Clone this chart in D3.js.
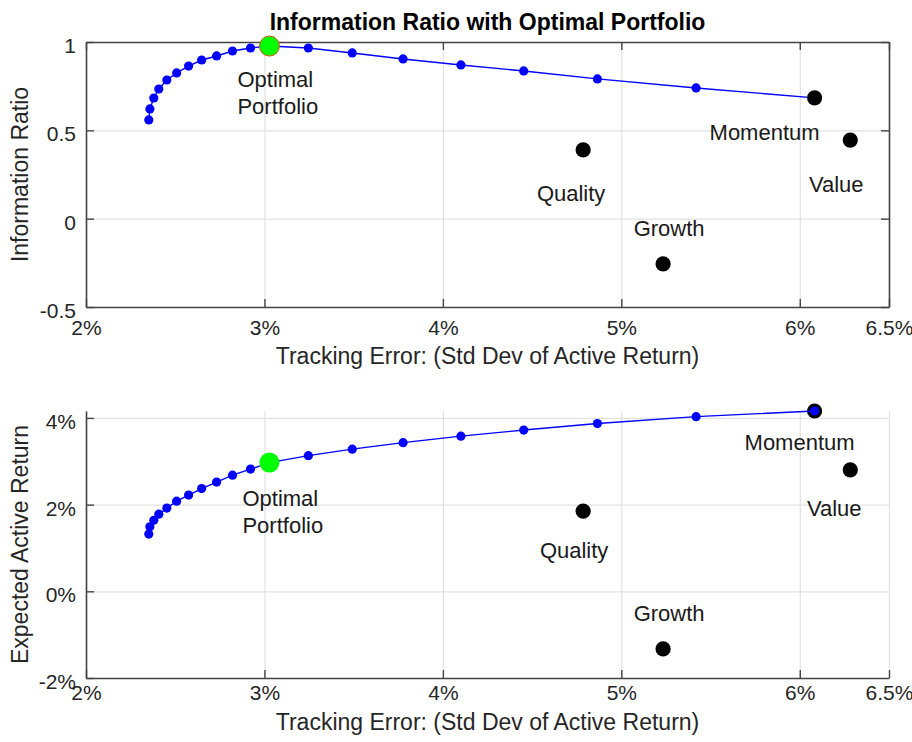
<!DOCTYPE html>
<html>
<head>
<meta charset="utf-8">
<script src="https://cdn.jsdelivr.net/npm/d3@7"></script>
<style>
  body { margin: 0; background: #fff; }
  svg text { font-family: "Liberation Sans", Arial, sans-serif; fill: #262626; }
</style>
</head>
<body>
<svg id="root" width="912" height="742"></svg>
<script>
// frontier of portfolios (tracking error %, information ratio, expected active return %)
const trackingError = [2.352, 2.358, 2.380, 2.408, 2.453, 2.508, 2.575, 2.648, 2.732, 2.821,
  2.922, 3.028, 3.246, 3.492, 3.777, 4.101, 4.453, 4.866, 5.419, 6.083];
const infoRatio = [0.559, 0.621, 0.683, 0.734, 0.785, 0.825, 0.864, 0.898, 0.921, 0.949,
  0.966, 0.977, 0.966, 0.938, 0.904, 0.870, 0.836, 0.791, 0.740, 0.684];
const activeReturn = [1.32, 1.49, 1.64, 1.78, 1.92, 2.08, 2.22, 2.37, 2.52, 2.68,
  2.82, 2.97, 3.13, 3.28, 3.43, 3.58, 3.72, 3.87, 4.03, 4.16];
const optimalIndex = 11;

// single factor portfolios
const factorNames = ["Momentum", "Value", "Quality", "Growth"];
const factorTE = [6.083, 6.283, 4.786, 5.234];
const factorIR = [0.684, 0.445, 0.389, -0.256];
const factorER = [4.16, 2.80, 1.85, -1.33];

const xTicks = [2, 3, 4, 5, 6, 6.5];
const irTicks = [-0.5, 0, 0.5, 1];
const erTicks = [-2, 0, 2, 4];

const svg = d3.select("#root");
const left = 86, right = 889;

const x = d3.scaleLinear().domain([2, 6.5]).range([left, right]);

const panels = [
  {
    top: 42, bottom: 307, box: true,
    yDomain: [-0.5, 1], yTicks: irTicks, yFmt: d => String(d),
    yLabel: "Information Ratio", yValues: infoRatio, factorY: factorIR,
    tickPad: 13, xTitleY: 364, factorsOnTop: true,
    optimalStroke: "#d95319",
    offsets: { Momentum: [-50, 34], Value: [-14, 44], Quality: [-12, 43], Growth: [6, -36] },
    optOffset: [-32, 33]
  },
  {
    top: 411, bottom: 678, box: false,
    yDomain: [-2, d3.max(activeReturn)], yTicks: erTicks, yFmt: d => d + "%",
    yLabel: "Expected Active Return", yValues: activeReturn, factorY: factorER,
    tickPad: 7, xTitleY: 730, factorsOnTop: false,
    optimalStroke: "none",
    offsets: { Momentum: [-15, 31], Value: [-16, 38], Quality: [-9, 39], Growth: [6, -36] },
    optOffset: [-27, 36]
  }
];

panels.forEach(drawPanel);

svg.append("text")
  .attr("x", (left + right) / 2)
  .attr("y", 30)
  .attr("text-anchor", "middle")
  .style("font-size", "23px")
  .style("font-weight", "bold")
  .style("fill", "#000")
  .text("Information Ratio with Optimal Portfolio");

function drawPanel(p) {
  const y = d3.scaleLinear().domain(p.yDomain).range([p.bottom, p.top]);
  const h = p.bottom - p.top;
  const g = svg.append("g");

  // grid
  g.append("g")
    .attr("transform", `translate(0,${p.bottom})`)
    .call(d3.axisBottom(x).tickValues(xTicks).tickSize(-h).tickFormat(""))
    .call(a => a.select(".domain").remove())
    .call(a => a.selectAll("line").attr("stroke", "#e2e2e2").attr("stroke-width", 1.2));
  g.append("g")
    .attr("transform", `translate(${left},0)`)
    .call(d3.axisLeft(y).tickValues(p.yTicks).tickSize(-(right - left)).tickFormat(""))
    .call(a => a.select(".domain").remove())
    .call(a => a.selectAll("line").attr("stroke", "#e2e2e2").attr("stroke-width", 1.2));

  // axes
  const styleAxis = a => {
    a.select(".domain").attr("stroke", "#444").attr("stroke-width", 1.6);
    a.selectAll(".tick line").attr("stroke", "#444").attr("stroke-width", 1.4);
    a.selectAll("text").style("font-size", "21px").style("fill", "#262626")
      .attr("font-family", null);
  };

  g.append("g")
    .attr("transform", `translate(0,${p.bottom})`)
    .call(d3.axisBottom(x).tickValues(xTicks).tickSize(-8).tickSizeOuter(0)
      .tickPadding(p.tickPad).tickFormat(d => d + "%"))
    .call(styleAxis);
  g.append("g")
    .attr("transform", `translate(${left},0)`)
    .call(d3.axisLeft(y).tickValues(p.yTicks).tickSize(-8).tickSizeOuter(0)
      .tickPadding(10).tickFormat(p.yFmt))
    .call(styleAxis)
    .call(a => a.selectAll("text").attr("dy", "0.5em"));

  if (p.box) {
    g.append("g")
      .attr("transform", `translate(0,${p.top})`)
      .call(d3.axisTop(x).tickValues(xTicks).tickSize(-8).tickSizeOuter(0).tickFormat(""))
      .call(styleAxis);
    g.append("g")
      .attr("transform", `translate(${right},0)`)
      .call(d3.axisRight(y).tickValues(p.yTicks).tickSize(-8).tickSizeOuter(0).tickFormat(""))
      .call(styleAxis);
  }

  // axis titles
  g.append("text")
    .attr("x", (left + right) / 2)
    .attr("y", p.xTitleY)
    .attr("text-anchor", "middle")
    .style("font-size", "23px")
    .text("Tracking Error: (Std Dev of Active Return)");
  g.append("text")
    .attr("transform", `translate(28,${(p.top + p.bottom) / 2}) rotate(-90)`)
    .attr("text-anchor", "middle")
    .style("font-size", "23px")
    .text(p.yLabel);

  const frontier = trackingError.map((t, i) => ({ x: t, y: p.yValues[i] }));
  const factors = factorNames.map((n, i) => ({ name: n, x: factorTE[i], y: p.factorY[i] }));

  const drawFrontier = () => {
    g.append("path")
      .datum(frontier)
      .attr("fill", "none")
      .attr("stroke", "#0000ff")
      .attr("stroke-width", 1.4)
      .attr("d", d3.line().x(d => x(d.x)).y(d => y(d.y)));
    g.selectAll(null)
      .data(frontier)
      .enter().append("circle")
      .attr("cx", d => x(d.x))
      .attr("cy", d => y(d.y))
      .attr("r", 4.6)
      .attr("fill", "#0000ff");
  };
  const drawFactors = () => {
    g.selectAll(null)
      .data(factors)
      .enter().append("circle")
      .attr("cx", d => x(d.x))
      .attr("cy", d => y(d.y))
      .attr("r", 7.6)
      .attr("fill", "#000");
  };

  if (p.factorsOnTop) { drawFrontier(); drawFactors(); }
  else { drawFactors(); drawFrontier(); }

  // optimal portfolio
  const opt = frontier[optimalIndex];
  g.append("circle")
    .attr("cx", x(opt.x))
    .attr("cy", y(opt.y))
    .attr("r", 10)
    .attr("fill", "#00ff00")
    .attr("stroke", p.optimalStroke)
    .attr("stroke-width", 1);

  // labels
  g.selectAll(null)
    .data(factors)
    .enter().append("text")
    .attr("x", d => x(d.x) + p.offsets[d.name][0])
    .attr("y", d => y(d.y) + p.offsets[d.name][1])
    .attr("dy", "0.35em")
    .attr("text-anchor", "middle")
    .style("font-size", "22px")
    .style("fill", "#1a1a1a")
    .text(d => d.name);

  const optText = g.append("text")
    .attr("x", x(opt.x) + p.optOffset[0])
    .attr("y", y(opt.y) + p.optOffset[1])
    .attr("dy", "0.35em")
    .style("font-size", "22px")
    .style("fill", "#1a1a1a");
  optText.append("tspan").text("Optimal");
  optText.append("tspan")
    .attr("x", x(opt.x) + p.optOffset[0])
    .attr("dy", "1.22em")
    .text("Portfolio");
}
</script>
</body>
</html>
